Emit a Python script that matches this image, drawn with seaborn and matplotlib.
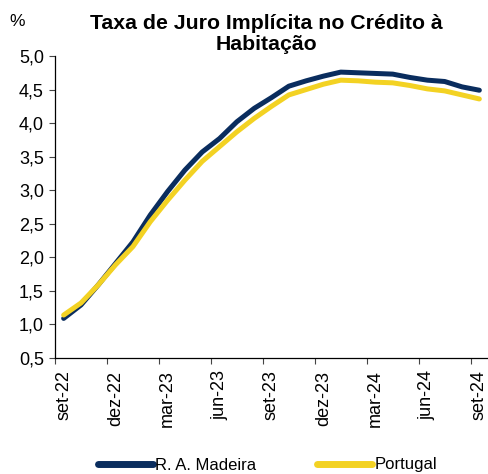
import seaborn as sns
import matplotlib.pyplot as plt
import pandas as pd
from matplotlib.lines import Line2D

# Monthly data, set-22 .. set-24
months = ['set-22', 'out-22', 'nov-22', 'dez-22', 'jan-23', 'fev-23', 'mar-23',
          'abr-23', 'mai-23', 'jun-23', 'jul-23', 'ago-23', 'set-23', 'out-23',
          'nov-23', 'dez-23', 'jan-24', 'fev-24', 'mar-24', 'abr-24', 'mai-24',
          'jun-24', 'jul-24', 'ago-24', 'set-24']
madeira = [1.09, 1.29, 1.59, 1.91, 2.23, 2.63, 2.98, 3.30, 3.57, 3.77, 4.02, 4.22,
           4.38, 4.55, 4.63, 4.70, 4.76, 4.75, 4.74, 4.73, 4.68, 4.64, 4.62, 4.54, 4.49]
portugal = [1.14, 1.32, 1.59, 1.89, 2.16, 2.53, 2.85, 3.15, 3.43, 3.65, 3.87, 4.07,
            4.25, 4.42, 4.50, 4.58, 4.64, 4.63, 4.61, 4.60, 4.56, 4.51, 4.48, 4.42, 4.36]

navy = '#0a2d5e'
yellow = '#f3d223'

df = pd.DataFrame({'idx': list(range(len(months))) * 2,
                   'valor': madeira + portugal,
                   'serie': ['R. A. Madeira'] * len(months) + ['Portugal'] * len(months)})

sns.set_style("ticks")
plt.rcParams['font.family'] = ['Liberation Sans', 'DejaVu Sans']
plt.rcParams['text.color'] = 'black'

fig = plt.figure(figsize=(4.89, 4.74), dpi=100)
ax = fig.add_axes([55 / 489, 1 - 358 / 474, 433 / 489, 302 / 474])

sns.lineplot(data=df, x='idx', y='valor', hue='serie',
             palette={'R. A. Madeira': navy, 'Portugal': yellow},
             linewidth=3.6, legend=False, ax=ax, solid_capstyle='round')

ax.set_xlim(-0.5, len(months) - 0.5)
ax.set_ylim(0.5, 5.0)
ax.set_yticks([0.5 + 0.5 * i for i in range(10)])
ax.set_yticklabels([f'{0.5 + 0.5 * i:.1f}'.replace('.', ',') for i in range(10)], fontsize=13)

# tick marks on category boundaries, labels on the categories
ax.set_xticks([-0.5 + 3 * k for k in range(9)])
ax.set_xticklabels([])
ax.set_xticks(list(range(0, len(months), 3)), minor=True)
ax.set_xticklabels(months[::3], minor=True, rotation=90, fontsize=13)
ax.tick_params(axis='x', which='minor', length=0, pad=9, labelcolor='black')
ax.tick_params(axis='x', which='major', length=4, width=0.8, color='#444444')
ax.tick_params(axis='y', length=4, width=0.8, color='#444444', pad=4, labelcolor='black')
ax.set_xlabel('')
ax.set_ylabel('')
for s in ['top', 'right']:
    ax.spines[s].set_visible(False)
for s in ['left', 'bottom']:
    ax.spines[s].set_linewidth(0.9)
    ax.spines[s].set_color('black')

fig.text(266 / 489, 1 - 34 / 474, 'Taxa de Juro Implícita no Crédito à\nHabitação',
         ha='center', va='center', fontsize=15.3, fontweight='bold', linespacing=1.15)
fig.text(9 / 489, 1 - 22 / 474, '%', ha='left', va='center', fontsize=12.5)

handles = [Line2D([], [], color=navy, linewidth=5, solid_capstyle='round'),
           Line2D([], [], color=yellow, linewidth=5, solid_capstyle='round')]
fig.legend(handles, ['R. A. Madeira', 'Portugal'], loc='center left',
           bbox_to_anchor=(98 / 489, 1 - 465 / 474), ncol=2, frameon=False,
           fontsize=12, handlelength=3.3, handletextpad=0.15, columnspacing=3.6,
           borderpad=0, borderaxespad=0)

fig.savefig('out.png', dpi=100)
